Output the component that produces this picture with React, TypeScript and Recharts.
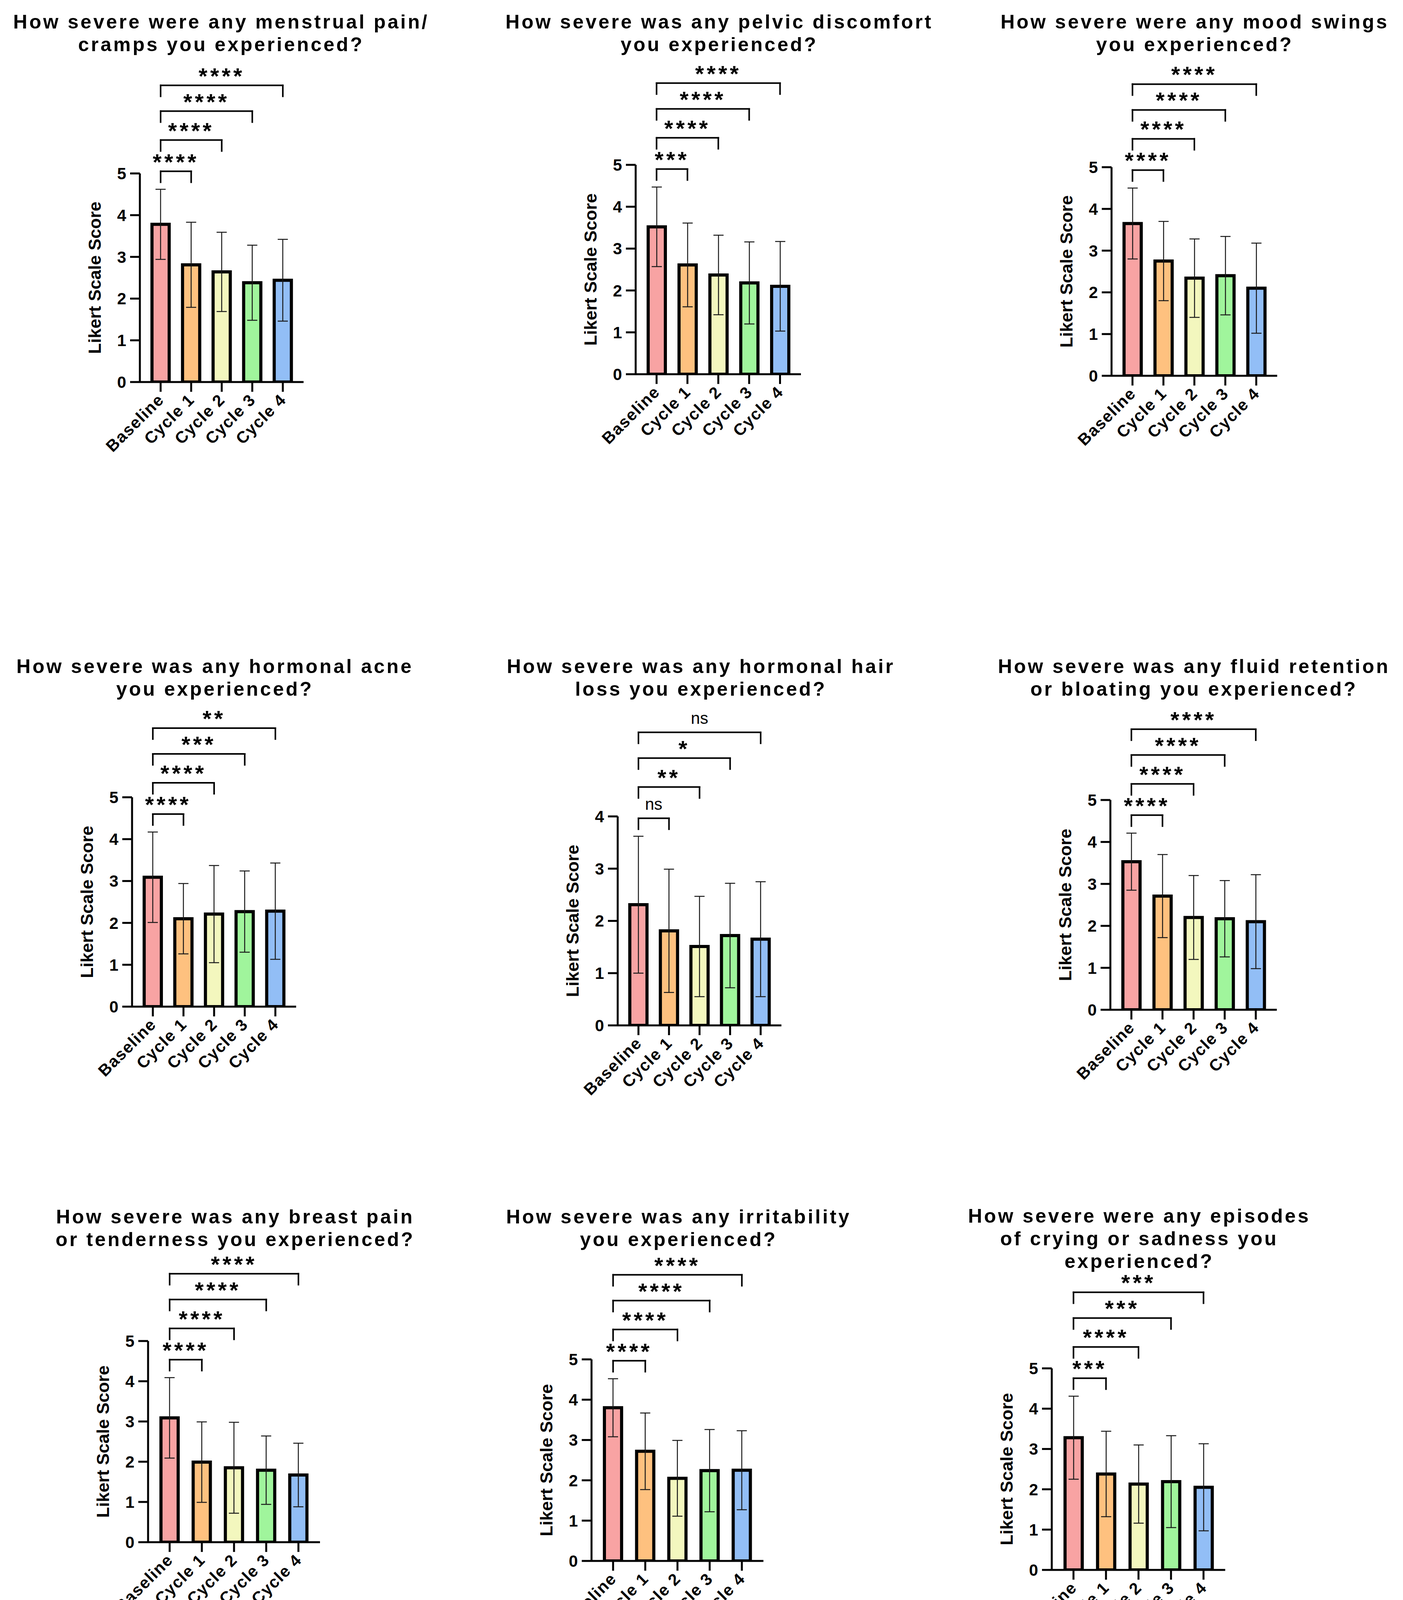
import React from "react"
import { Bar, BarChart, Cell, ErrorBar, ReferenceLine, XAxis, YAxis } from "recharts"

const FONT = "'Liberation Sans', Arial, Helvetica, sans-serif"

const groups = ["Baseline", "Cycle 1", "Cycle 2", "Cycle 3", "Cycle 4"]
const barColors = ["#F8A3A3", "#FEC17F", "#F3F7BE", "#A0F59C", "#92BEF6"]

const titles = [
    ["How severe were any menstrual pain/", "cramps you experienced?"],
    ["How severe was any pelvic discomfort", "you experienced?"],
    ["How severe were any mood swings", "you experienced?"],
    ["How severe was any hormonal acne", "you experienced?"],
    ["How severe was any hormonal hair", "loss you experienced?"],
    ["How severe was any fluid retention", "or bloating you experienced?"],
    ["How severe was any breast pain", "or tenderness you experienced?"],
    ["How severe was any irritability", "you experienced?"],
    ["How severe were any episodes", "of crying or sadness you", "experienced?"],
    ["How severe was any emotional", "distress you experienced?"],
]

// mean Likert score per group (Baseline, Cycle 1..4)
const meanScores = [
    [3.78, 2.81, 2.64, 2.38, 2.44],
    [3.52, 2.61, 2.37, 2.18, 2.10],
    [3.65, 2.75, 2.34, 2.40, 2.10],
    [3.09, 2.10, 2.21, 2.27, 2.28],
    [2.31, 1.81, 1.51, 1.72, 1.65],
    [3.53, 2.71, 2.20, 2.17, 2.10],
    [3.09, 1.99, 1.85, 1.79, 1.67],
    [3.80, 2.72, 2.05, 2.24, 2.25],
    [3.28, 2.38, 2.13, 2.19, 2.05],
    [3.39, 2.55, 2.17, 2.21, 2.07],
]

// standard deviation per group
const sdScores = [
    [0.84, 1.02, 0.95, 0.90, 0.98],
    [0.95, 1.00, 0.95, 0.98, 1.07],
    [0.85, 0.95, 0.94, 0.94, 1.08],
    [1.08, 0.84, 1.16, 0.97, 1.15],
    [1.31, 1.18, 0.96, 1.00, 1.10],
    [0.68, 0.99, 1.00, 0.91, 1.12],
    [1.00, 1.00, 1.13, 0.85, 0.79],
    [0.72, 0.95, 0.94, 1.02, 0.98],
    [1.03, 1.06, 0.97, 1.14, 1.08],
    [1.00, 1.07, 1.05, 1.19, 1.10],
]

// Baseline vs Cycle 1..4
const significance = [
    ["****", "****", "****", "****"],
    ["***", "****", "****", "****"],
    ["****", "****", "****", "****"],
    ["****", "****", "***", "**"],
    ["ns", "**", "*", "ns"],
    ["****", "****", "****", "****"],
    ["****", "****", "****", "****"],
    ["****", "****", "****", "****"],
    ["***", "****", "***", "***"],
    ["**", "****", "***", "****"],
]

const yMax = [5, 5, 5, 5, 4, 5, 5, 5, 5, 5]
const ticks5 = [0, 1, 2, 3, 4, 5]
const ticks4 = [0, 1, 2, 3, 4]

// pixel placement of each plot area and title on the page
const plotBoxes = [
    { axisX: 358, top: 444, bottom: 978, right: 777 },
    { axisX: 1627, top: 422, bottom: 958, right: 2050 },
    { axisX: 2845, top: 428, bottom: 962, right: 3269 },
    { axisX: 338, top: 2041, bottom: 2577, right: 758 },
    { axisX: 1581, top: 2090, bottom: 2625, right: 2000 },
    { axisX: 2842, top: 2048, bottom: 2585, right: 3268 },
    { axisX: 379, top: 3433, bottom: 3948, right: 819 },
    { axisX: 1514, top: 3480, bottom: 3996, right: 1954 },
    { axisX: 2692, top: 3503, bottom: 4019, right: 3136 },
    { axisX: 352, top: 4967, bottom: 5483, right: 791 },
]

const titleBoxes = [
    { cx: 566, top: 27 },
    { cx: 1841, top: 27 },
    { cx: 3058, top: 27 },
    { cx: 550, top: 1677 },
    { cx: 1794, top: 1677 },
    { cx: 3056, top: 1677 },
    { cx: 602, top: 3086 },
    { cx: 1737, top: 3086 },
    { cx: 2916, top: 3084 },
    { cx: 575, top: 4608 },
]

const Y_AXIS_W = 232
const TOP_SPACE = 330
const X_AXIS_H = 250
const RIGHT_SPACE = 20
const bracketGaps = [0, 80, 154, 220]

const XTick = (props: any) => {
    const { x, y, payload } = props
    const ax = x + 11
    const ay = y + 23
    return (
        <text
            x={ax}
            y={ay}
            transform={`rotate(-45 ${ax} ${ay})`}
            textAnchor="end"
            fontSize={42}
            fontWeight={700}
            fontFamily={FONT}
            letterSpacing={2}
            fill="#000"
        >
            {payload.value}
        </text>
    )
}

function Panel({ idx }: { idx: number }) {
    const box = plotBoxes[idx]
    const plotW = box.right - box.axisX
    const plotH = box.bottom - box.top
    const max = yMax[idx]
    const unit = plotH / max
    const data = groups.map((g, i) => ({ group: g, mean: meanScores[idx][i], sd: sdScores[idx][i] }))
    const baseTop = meanScores[idx][0] + sdScores[idx][0]

    const brackets = significance[idx].map((s, k) => {
        const yLine = baseTop + (46 + bracketGaps[k]) / unit
        const yLeg = yLine - 28 / unit
        const target = groups[k + 1]
        const ns = s === "ns"
        return [
            <ReferenceLine
                key={"h" + k}
                segment={[{ x: groups[0], y: yLine }, { x: target, y: yLine }]}
                stroke="#000"
                strokeWidth={4}
                strokeLinecap="square"
                ifOverflow="visible"
                label={{
                    value: s,
                    position: "top",
                    offset: ns ? 22 : 4,
                    fontSize: ns ? 42 : 58,
                    fontWeight: ns ? 400 : 700,
                    fontFamily: FONT,
                    letterSpacing: ns ? 0 : 7,
                    fill: "#000",
                }}
            />,
            <ReferenceLine
                key={"l" + k}
                segment={[{ x: groups[0], y: yLine }, { x: groups[0], y: yLeg }]}
                stroke="#000"
                strokeWidth={4}
                strokeLinecap="square"
                ifOverflow="visible"
            />,
            <ReferenceLine
                key={"r" + k}
                segment={[{ x: target, y: yLine }, { x: target, y: yLeg }]}
                stroke="#000"
                strokeWidth={4}
                strokeLinecap="square"
                ifOverflow="visible"
            />,
        ]
    })

    return (
        <div style={{ position: "absolute", left: box.axisX - Y_AXIS_W, top: box.top - TOP_SPACE }}>
            <BarChart
                width={Y_AXIS_W + plotW + RIGHT_SPACE}
                height={TOP_SPACE + plotH + X_AXIS_H}
                data={data}
                margin={{ top: TOP_SPACE, right: RIGHT_SPACE, bottom: 0, left: 0 }}
            >
                <XAxis
                    dataKey="group"
                    height={X_AXIS_H}
                    padding={{ left: 14, right: 14 }}
                    interval={0}
                    tickSize={25}
                    tickMargin={0}
                    axisLine={{ stroke: "#000", strokeWidth: 5 }}
                    tickLine={{ stroke: "#000", strokeWidth: 5 }}
                    tick={<XTick />}
                />
                <YAxis
                    type="number"
                    domain={[0, max]}
                    ticks={max === 4 ? ticks4 : ticks5}
                    allowDataOverflow
                    width={Y_AXIS_W}
                    tickSize={25}
                    tickMargin={10}
                    axisLine={{ stroke: "#000", strokeWidth: 5 }}
                    tickLine={{ stroke: "#000", strokeWidth: 5 }}
                    tick={{ fontSize: 42, fontWeight: 700, fill: "#000", fontFamily: FONT }}
                    label={{
                        value: "Likert Scale Score",
                        angle: -90,
                        position: "center",
                        fontSize: 45,
                        fontWeight: 700,
                        fill: "#000",
                        fontFamily: FONT,
                    }}
                />
                <Bar dataKey="mean" barSize={44} stroke="#000" strokeWidth={8} isAnimationActive={false}>
                    {data.map((d, i) => (
                        <Cell key={d.group} fill={barColors[i]} />
                    ))}
                    <ErrorBar dataKey="sd" width={13} strokeWidth={2.5} stroke="#1a1a1a" isAnimationActive={false} />
                </Bar>
                {brackets}
            </BarChart>
        </div>
    )
}

function Title({ idx }: { idx: number }) {
    const t = titleBoxes[idx]
    return (
        <div
            style={{
                position: "absolute",
                left: t.cx - 700,
                top: t.top,
                width: 1400,
                textAlign: "center",
                fontSize: 50,
                fontWeight: 700,
                lineHeight: "58px",
                letterSpacing: 5,
                color: "#000",
                fontFamily: FONT,
            }}
        >
            {titles[idx].map((line) => (
                <div key={line}>{line}</div>
            ))}
        </div>
    )
}

export default function App() {
    return (
        <div
            style={{
                position: "relative",
                marginLeft: -8,
                marginTop: -8,
                width: 3591,
                height: 5999,
                background: "#fff",
                fontFamily: FONT,
                overflow: "hidden",
            }}
        >
            {titles.map((_, i) => (
                <Title key={"t" + i} idx={i} />
            ))}
            {titles.map((_, i) => (
                <Panel key={"p" + i} idx={i} />
            ))}
        </div>
    )
}
